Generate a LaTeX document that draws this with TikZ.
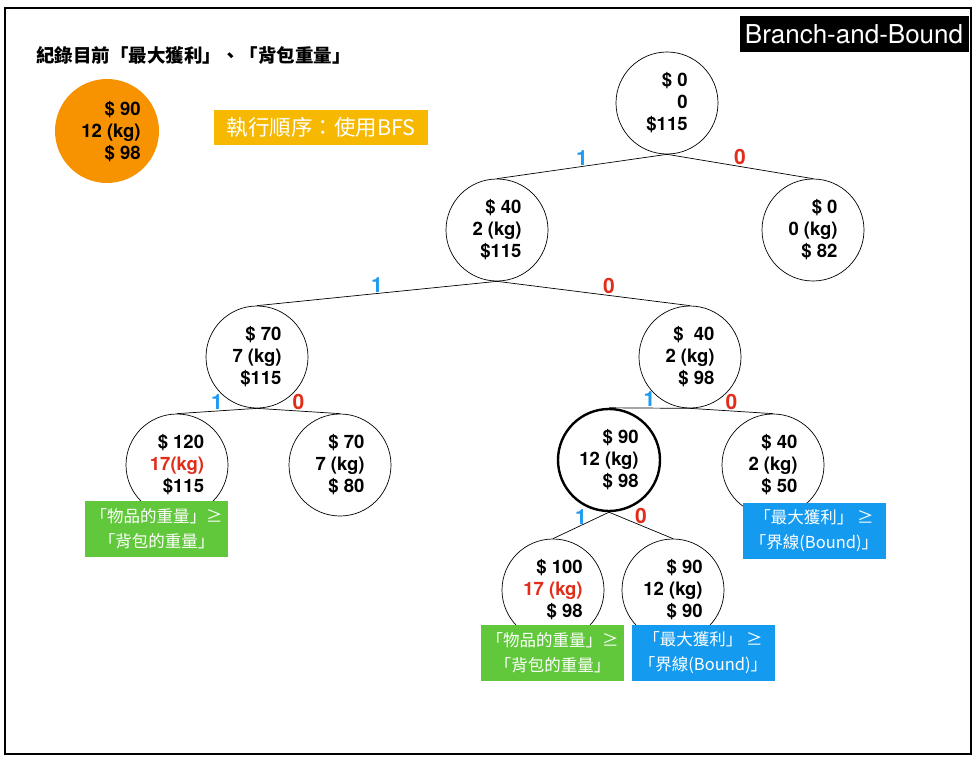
\documentclass[tikz,border=0pt]{standalone}
\usepackage{fontspec}
\setmainfont{TeX Gyre Heros}
\newfontfamily\cjk{Noto Sans CJK TC}
\usetikzlibrary{positioning}

\definecolor{bestorange}{RGB}{247,146,0}
\definecolor{orderyellow}{RGB}{246,184,0}
\definecolor{cutgreen}{RGB}{96,200,58}
\definecolor{cutblue}{RGB}{20,155,240}
\definecolor{bitone}{RGB}{30,155,240}
\definecolor{bitzero}{RGB}{225,45,25}

\begin{document}
\begin{tikzpicture}[x=1pt, y=-1pt,
  every node/.style={font=\bfseries\fontsize{18.5}{22}\selectfont},
  state/.style={draw, circle, minimum size=102pt, inner sep=0pt, align=right, line width=0.7pt},
  best/.style={state, line width=2.4pt},
  one/.style={above, inner sep=1pt, text=bitone, font=\bfseries\fontsize{21}{21}\selectfont},
  zero/.style={above, inner sep=1pt, text=bitzero, font=\bfseries\fontsize{21}{21}\selectfont},
  cutbox/.style={minimum width=143pt, minimum height=56pt, inner sep=0pt, align=center, text=white, font=\cjk\fontsize{16.5}{25}\selectfont}]
  \useasboundingbox (0,0) rectangle (976,759);
  \fill[white] (0,0) rectangle (976,759);
  \draw[line width=2pt] (5,8) rectangle (971,754);

  % header
  \node[anchor=west, inner sep=0pt, font=\cjk\bfseries\fontsize{18.5}{18}\selectfont] (title) at (36,56) {紀錄目前「最大獲利」、「背包重量」};
  \node[fill=black, text=white, minimum width=229pt, minimum height=36pt, inner sep=0pt, font=\fontsize{26}{26}\selectfont] (bb) at (854,34) {Branch-and-Bound};
  \node[fill=orderyellow, text=white, minimum width=214pt, minimum height=35pt, inner sep=0pt, font=\cjk\fontsize{21.5}{21}\selectfont] (order) at (321,127.5) {執行順序：使用BFS};
  \node[circle, fill=bestorange, minimum size=104pt, inner sep=0pt] (record) at (107,131) {};
  \node[align=right, inner sep=0pt] (recordtext) at (111,132) {\$ 90\\12 (kg)\\\$ 98};

  % tree
  \node[state] (root) at (667,103) {\$ 0\\0\\\$115};
  \node[state] (a) at (497,230) {\$ 40\\2 (kg)\\\$115};
  \node[state] (b) at (813,230) {\$ 0\\0 (kg)\\\$ 82};
  \node[state] (c) at (257,357) {\$ 70\\7 (kg)\\\$115};
  \node[state] (d) at (690,357) {\$~~40\\2 (kg)\\\$ 98};
  \node[state] (e) at (177,465) {\$ 120\\\textcolor{bitzero}{17(kg)}\\\$115};
  \node[state] (f) at (340,465) {\$ 70\\7 (kg)\\\$ 80};
  \node[best] (g) at (609,460) {\$ 90\\12 (kg)\\\$ 98};
  \node[state] (h) at (773,465) {\$ 40\\2 (kg)\\\$ 50};
  \node[state] (i) at (553,590) {\$ 100\\\textcolor{bitzero}{17 (kg)}\\\$ 98};
  \node[state] (j) at (673,590) {\$ 90\\12 (kg)\\\$ 90};

  \draw[line width=0.7pt] (root.south) -- node[one]{1} (a.north);
  \draw[line width=0.7pt] (root.south) -- node[zero]{0} (b.north);
  \draw[line width=0.7pt] (a.south) -- node[one]{1} (c.north);
  \draw[line width=0.7pt] (a.south) -- node[zero, pos=0.58]{0} (d.north);
  \draw[line width=0.7pt] (c.south) -- node[one]{1} (e.north);
  \draw[line width=0.7pt] (c.south) -- node[zero]{0} (f.north);
  \draw[line width=0.7pt] (d.south) -- node[one]{1} (g.north);
  \draw[line width=0.7pt] (d.south) -- node[zero]{0} (h.north);
  \draw[line width=0.7pt] (g.south) -- node[one]{1} (i.north);
  \draw[line width=0.7pt] (g.south) -- node[zero]{0} (j.north);

  % pruned
  \node[cutbox, fill=cutgreen] (ecut) at (156.5,529) {「物品的重量」≥\\「背包的重量」};
  \node[cutbox, fill=cutgreen] (icut) at (552.5,652.5) {「物品的重量」≥\\「背包的重量」};
  \node[cutbox, fill=cutblue] (hcut) at (814,530.5) {「最大獲利」 ≥\\「界線(Bound)」};
  \node[cutbox, fill=cutblue] (jcut) at (703,652.5) {「最大獲利」 ≥\\「界線(Bound)」};
\end{tikzpicture}
\end{document}
